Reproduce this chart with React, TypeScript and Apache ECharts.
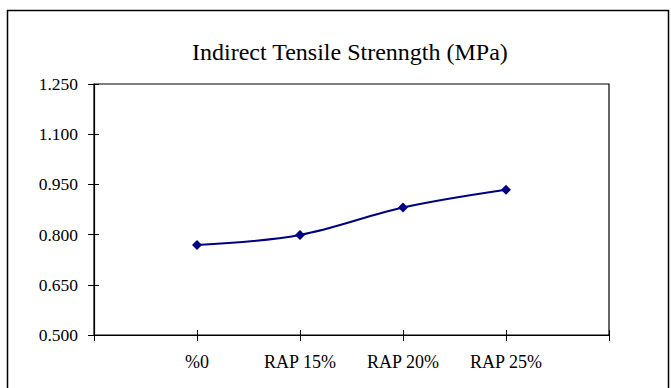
import React, { useEffect, useRef } from "react";
import * as echarts from "echarts";

const titleText = "Indirect Tensile Strenngth (MPa)";
const categories = ["", "%0", "RAP 15%", "RAP 20%", "RAP 25%", ""];
const strengthValues: (number | null)[] = [null, 0.769, 0.799, 0.881, 0.934, null];
const yMin = 0.5;
const yMax = 1.25;
const yStep = 0.15;

const FONT = "Liberation Serif";

export default function App() {
  const ref = useRef<HTMLDivElement>(null);
  useEffect(() => {
    if (!ref.current) return;
    const chart = echarts.init(ref.current, null, { renderer: "svg" });
    const gridPos = { left: 94, top: 84, right: 62, bottom: 53 };
    chart.setOption({
      animation: false,
      backgroundColor: "#ffffff",
      textStyle: { fontFamily: FONT },
      title: {
        text: titleText,
        left: 187,
        top: 35,
        textStyle: { fontFamily: FONT, fontSize: 24, fontWeight: "normal", color: "#000" },
      },
      graphic: [
        {
          type: "rect",
          shape: { x: 7.5, y: 10.5, width: 661, height: 400 },
          style: { fill: "none", stroke: "#000", lineWidth: 1.5 },
          silent: true,
        },
      ],
      grid: {
        ...gridPos,
        show: true,
        borderColor: "#000",
        borderWidth: 1.2,
        backgroundColor: "transparent",
      },
      xAxis: [
        {
          type: "category",
          data: categories,
          boundaryGap: false,
          position: "bottom",
          axisLine: { show: true, onZero: false, lineStyle: { color: "#000", width: 1.2 } },
          axisTick: { show: true, interval: 0, length: 6, lineStyle: { color: "#000" } },
          axisLabel: {
            show: true,
            interval: 0,
            margin: 18,
            fontFamily: FONT,
            fontSize: 18,
            color: "#000",
          },
          splitLine: { show: false },
        },
        {
          type: "category",
          data: categories,
          boundaryGap: false,
          position: "bottom",
          offset: -5,
          axisLine: { show: false, onZero: false },
          axisTick: {
            show: true,
            interval: 0,
            length: 11,
            lineStyle: { color: "#000", width: 1 },
          },
          axisLabel: { show: false },
          splitLine: { show: false },
        },
      ],
      yAxis: [
        {
          type: "value",
          min: yMin,
          max: yMax,
          interval: yStep,
          position: "left",
          axisLine: { show: true, onZero: false, lineStyle: { color: "#000", width: 1.2 } },
          axisTick: { show: true, length: 6, lineStyle: { color: "#000" } },
          axisLabel: {
            margin: 16,
            fontFamily: FONT,
            fontSize: 17.5,
            color: "#000",
            formatter: (v: number) => v.toFixed(3),
          },
          splitLine: { show: false },
        },
        {
          type: "value",
          min: yMin,
          max: yMax,
          interval: yStep,
          position: "left",
          offset: -5,
          axisLine: { show: false, onZero: false },
          axisTick: { show: true, length: 11, lineStyle: { color: "#000", width: 1 } },
          axisLabel: { show: false },
          splitLine: { show: false },
        },
      ],
      series: [
        {
          type: "line",
          data: strengthValues,
          xAxisIndex: 0,
          yAxisIndex: 0,
          smooth: 0.35,
          symbol: "diamond",
          symbolSize: 10,
          lineStyle: { color: "#000080", width: 2 },
          itemStyle: { color: "#000080" },
        },
      ],
    });
    return () => chart.dispose();
  }, []);
  return (
    <div
      ref={ref}
      style={{ position: "fixed", left: 0, top: 0, width: 671, height: 388, background: "#fff" }}
    />
  );
}
